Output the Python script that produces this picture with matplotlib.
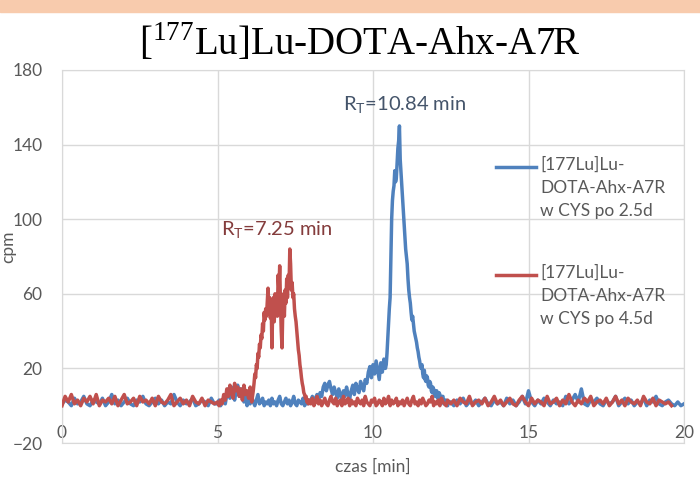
import numpy as np
import matplotlib.pyplot as plt

# [177Lu]Lu-DOTA-Ahx-A7R w CYS po 2.5d (niebieski)
# czas [min] w odcinkach o roznym kroku probkowania
blue_t = np.concatenate([0.1 * np.arange(50),          # 0.0 - 4.9
                         5.0 + 0.05 * np.arange(109),   # 5.0 - 10.4
                         10.425 + 0.025 * np.arange(82),  # 10.425 - 12.45
                         12.5 + 0.1 * np.arange(76)])   # 12.5 - 20.0
blue_1 = [1, 3, 2, 0, 4, 1, 2, 5, 1, 0, 3, 2, 1, 4, 0, 2, 6, 1, 3, 0,
          2, 4, 1, 0, 3, 2, 5, 1, 0, 2, 4, 1, 3, 0, 2, 1, 6, 2, 0, 3,
          1, 2, 4, 0, 1, 3, 2, 0, 4, 1]
blue_2 = [1, 3, 0, 2, 4, 1,
          6, 9, 4, 10, 7, 3, 8, 11, 5, 9, 6, 2, 7,
          0, 4, 1, 5, 2, 0, 3, 6, 1, 2, 4, 0,
          2, 1, 3, 0, 4, 1, 2, 0, 3, 5, 1, 0, 2, 4, 1, 3, 0, 2, 5, 1, 0, 3, 2, 1, 4, 0, 2, 1, 3,
          2, 5, 1, 4, 6, 3, 7, 5,
          10, 12, 8, 11, 13, 9, 6, 10,
          7, 4, 9, 6, 3, 8, 5, 10, 6, 4,
          8, 11, 6, 12, 9, 7, 13, 10, 8, 14,
          12, 18, 21, 15, 22, 17, 24, 19, 14, 23, 18, 25, 20]
blue_3 = [22, 28, 36, 45, 52, 58, 80, 100, 110, 115, 118, 126, 120, 122, 130, 138,
          142, 150, 132, 125, 118, 110, 104,
          98, 90, 84, 80, 76, 68, 62, 58, 55, 50, 46, 48, 44, 40, 38, 36, 34, 31, 29, 26,
          24, 21, 20, 22, 17, 15, 19, 14, 13, 16, 15, 11, 10, 13, 12, 8, 7, 10, 9, 6,
          5, 8, 8, 4, 4, 7, 6, 3, 2, 5, 5, 1, 1, 3, 3, 0, 0, 2, 2]
blue_4 = [2, 0, 3, 1, 4, 0, 2, 1, 3, 0, 2, 4, 1, 0, 3, 1, 2, 0, 4, 1,
          3, 0, 2, 5, 1, 8, 2, 0, 3, 1, 4, 2, 0, 3, 1, 2, 0, 5, 1, 3,
          6, 2, 9, 1, 0, 3, 2, 4, 1, 0, 3, 1, 2, 5, 0, 2, 4, 1, 3, 0,
          2, 1, 4, 0, 3, 2, 5, 1, 0, 2, 3, 1, 0, 2, 0, 1]

# [177Lu]Lu-DOTA-Ahx-A7R w CYS po 4.5d (czerwony)
red_t = np.concatenate([0.1 * np.arange(50),           # 0.0 - 4.9
                        5.0 + 0.05 * np.arange(23),    # 5.0 - 6.1
                        6.15 + 0.025 * np.arange(73),  # 6.15 - 7.95
                        8.0 + 0.05 * np.arange(90),    # 8.0 - 12.45
                        12.5 + 0.1 * np.arange(72)])   # 12.5 - 19.6
red_1 = [0, 5, 2, 6, 1, 3, 0, 4, 2, 5, 1, 6, 0, 3, 2, 4, 1, 5, 0, 3,
         6, 1, 2, 4, 0, 5, 2, 3, 1, 4, 0, 5, 2, 1, 3, 6, 0, 2, 4, 1,
         3, 0, 5, 2, 1, 4, 0, 3, 2, 1]
red_2 = [2, 0, 3, 1,
         6, 3, 9, 5, 11, 7, 4, 12, 8, 10, 5, 9, 3, 11, 6, 8, 4, 10, 2]
red_3 = [8, 12, 17, 15, 22, 20, 28, 26, 33, 31, 38, 36, 44, 40, 50, 46, 52, 48, 56, 63,
         50, 58, 47, 55, 31, 52, 58, 45, 60, 52, 57, 48, 70, 62,
         75, 55, 40, 31, 52, 60, 48, 62, 55, 68, 58, 70, 63, 84, 76, 62, 66, 58, 60, 52,
         48, 45, 40, 35, 30, 27, 22, 19, 15, 12, 10, 7, 6, 4, 5, 2, 3, 1, 3]
red_4 = [1, 4, 0, 2, 5, 1, 3, 0, 2, 4, 1, 0, 3, 5, 2, 1, 4, 0, 2, 3,
         0, 5, 1, 2, 4, 0, 3, 1, 2, 0, 4, 2, 1, 3, 0, 5, 2, 1, 0, 3,
         2, 4, 0, 1, 3, 2, 0, 4, 1, 2, 5, 0, 3, 1, 2, 4, 0, 2, 1, 3,
         0, 2, 4, 1, 0, 3, 5, 1, 2, 0, 3, 1, 4, 2, 0, 1, 3, 2, 5, 0,
         2, 1, 3, 0, 4, 2, 1, 0, 3, 2]
red_5 = [1, 3, 0, 4, 2, 1, 5, 0, 2, 3, 1, 4, 0, 2, 5, 1, 3, 0, 2, 4,
         1, 0, 3, 5, 2, 0, 4, 1, 3, 2, 0, 5, 1, 2, 4, 0, 3, 1, 6, 2,
         0, 3, 1, 4, 2, 5, 0, 2, 3, 1, 4, 0, 2, 5, 1, 3, 0, 4, 2, 1,
         3, 0, 5, 2, 1, 4, 0, 3, 2, 1, 2, 0]

labels = ['[177Lu]Lu-\nDOTA-Ahx-A7R\nw CYS po 2.5d',
          '[177Lu]Lu-\nDOTA-Ahx-A7R\nw CYS po 4.5d']
colors = ['#4F81BD', '#C0504D']

blue = np.array(blue_1 + blue_2 + blue_3 + blue_4, dtype=float)
red = np.array(red_1 + red_2 + red_3 + red_4 + red_5, dtype=float)
assert len(blue) == len(blue_t) and len(red) == len(red_t)

font = ['Lato', 'DejaVu Sans']
grey = '#595959'

fig = plt.figure(figsize=(7, 4.94), dpi=100)
ax = fig.add_axes([62/700, 51/494, 622/700, 373/494])

ax.plot(blue_t, blue, color=colors[0], lw=2.5, zorder=3)
ax.plot(red_t, red, color=colors[1], lw=2.5, zorder=4)

ax.set_xlim(0, 20)
ax.set_ylim(-20, 180)
ax.set_xticks([0, 5, 10, 15, 20])
ax.set_yticks([-20, 20, 60, 100, 140, 180])
ax.grid(color='#D9D9D9', lw=1)
ax.set_axisbelow(True)
for s in ax.spines.values():
    s.set_color('#D9D9D9')
ax.tick_params(length=0, colors=grey, labelsize=12.5)
ax.tick_params(axis='x', pad=-13)
ax.tick_params(axis='y', pad=14)
for lab in ax.get_xticklabels() + ax.get_yticklabels():
    lab.set_family(font)

ax.set_xlabel('czas [min]', fontsize=12.5, color=grey, family=font, labelpad=11)
fig.text(8/700, 0.5, 'cpm', rotation=90, ha='center', va='center',
         fontsize=12.5, color=grey, family=font)

# adnotacje czasow retencji
ax.text(11.0, 161, r'R$_{\mathregular{T}}$=10.84 min', ha='center', va='center',
        fontsize=14.5, color='#44546A', family=font)
ax.text(6.9, 94, r'R$_{\mathregular{T}}$=7.25 min', ha='center', va='center',
        fontsize=14.5, color='#843C3C', family=font)

# legenda
for i, (lab, c) in enumerate(zip(labels, colors)):
    y0 = (443 - [167, 275][i]) / 373
    ax.plot([(496-62)/622, (536-62)/622], [y0, y0], color=c, lw=2.5,
            transform=ax.transAxes, clip_on=False)
    ax.text((540-62)/622, y0 + 0.027, lab, transform=ax.transAxes, ha='left', va='top',
            fontsize=12.5, color=grey, family=font, linespacing=1.55)

# tytul
fig.text(0.514, 1 - 55/494, r'[$^{\mathregular{177}}$Lu]Lu-DOTA-Ahx-A7R', ha='center',
         va='baseline', fontsize=28, family=['Liberation Serif', 'DejaVu Serif'])

# pasek u gory
fig.patches.append(plt.Rectangle((0, 1 - 12/494), 1, 12/494, transform=fig.transFigure,
                                 color='#F8CBAD', zorder=0))

fig.savefig('out.png', dpi=100)
